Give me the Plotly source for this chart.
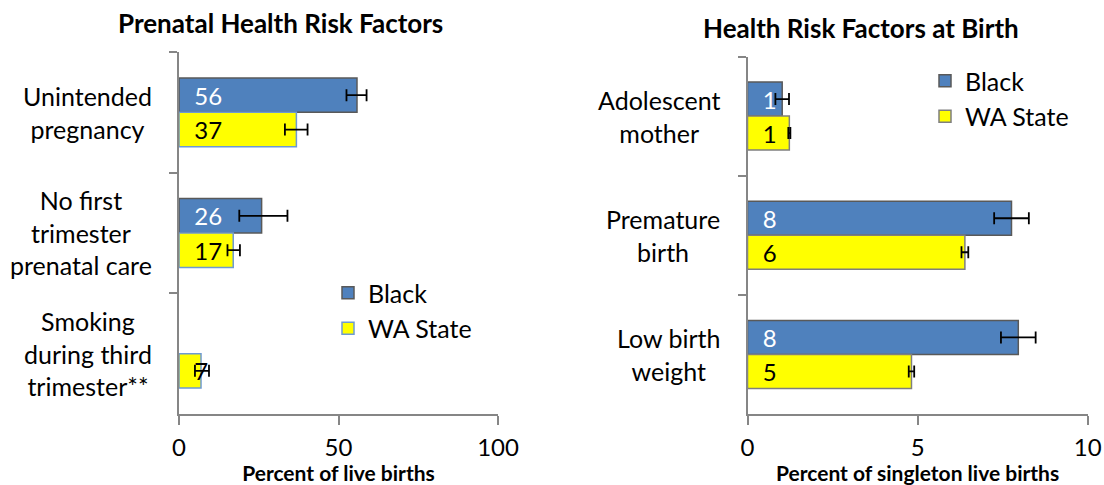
import plotly.graph_objects as go

FONT = "Lato"

# ---- data ----
prenatal_cats = ["Unintended<br>pregnancy", "No first<br>trimester<br>prenatal care",
                 "Smoking<br>during third<br>trimester**"]
prenatal_black = [55.8, 25.9, None]
prenatal_black_err_plus = [3.0, 8.1, None]
prenatal_black_err_minus = [3.3, 7.0, None]
prenatal_wa = [36.8, 17.0, 6.9]
prenatal_wa_err_plus = [3.5, 2.1, 2.5]
prenatal_wa_err_minus = [3.6, 1.8, 1.9]

birth_cats = ["Adolescent<br>mother", "Premature<br>birth", "Low birth<br>weight"]
birth_black = [1.02, 7.76, 7.96]
birth_black_err = [0.2, 0.51, 0.51]
birth_wa = [1.23, 6.39, 4.82]
birth_wa_err = [0.03, 0.1, 0.08]

x1_ticks = [0, 50, 100]
x2_ticks = [0, 5, 10]

BLUE = "#4F81BD"
YELLOW = "#FFFF00"
AXIS = "#868686"
PAD = "\u00a0\u00a0"


def labels(vals):
    return [None if v is None else PAD + str(int(round(v))) for v in vals]


fig = go.Figure()

common = dict(orientation="h", textposition="inside", insidetextanchor="start",
              constraintext="none", textangle=0, cliponaxis=False)

fig.add_trace(go.Bar(
    y=prenatal_cats, x=prenatal_black, name="Black", xaxis="x", yaxis="y",
    marker=dict(color=BLUE, line=dict(color="#595959", width=1.5)),
    text=labels(prenatal_black), textfont=dict(color="white", size=24, family=FONT),
    error_x=dict(type="data", array=prenatal_black_err_plus, arrayminus=prenatal_black_err_minus,
                 color="black", thickness=1.8, width=6),
    legend="legend", **common))
fig.add_trace(go.Bar(
    y=prenatal_cats, x=prenatal_wa, name="WA State", xaxis="x", yaxis="y",
    marker=dict(color=YELLOW, line=dict(color="#6D9AD3", width=1.5)),
    text=labels(prenatal_wa), textfont=dict(color="black", size=24, family=FONT),
    error_x=dict(type="data", array=prenatal_wa_err_plus, arrayminus=prenatal_wa_err_minus,
                 color="black", thickness=1.8, width=6),
    legend="legend", **common))

fig.add_trace(go.Bar(
    y=birth_cats, x=birth_black, name="Black", xaxis="x2", yaxis="y2",
    marker=dict(color=BLUE, line=dict(color="#595959", width=1.5)),
    text=labels(birth_black), textfont=dict(color="white", size=24, family=FONT),
    error_x=dict(type="data", array=birth_black_err, color="black", thickness=1.8, width=6),
    legend="legend2", **common))
fig.add_trace(go.Bar(
    y=birth_cats, x=birth_wa, name="WA State", xaxis="x2", yaxis="y2",
    marker=dict(color=YELLOW, line=dict(color="#7F7F7F", width=1.5)),
    text=labels(birth_wa), textfont=dict(color="black", size=24, family=FONT),
    error_x=dict(type="data", array=birth_wa_err, color="black", thickness=1.8, width=6),
    legend="legend2", **common))

W, H = 1104, 485
xaxis_common = dict(showline=True, linecolor=AXIS, linewidth=1.5, ticks="outside",
                    ticklen=9, tickcolor=AXIS, tickwidth=1.5, showgrid=False, zeroline=False,
                    tickfont=dict(size=24, family=FONT, color="black"), ticklabelstandoff=2,
                    automargin=False)
yaxis_common = dict(showline=True, linecolor=AXIS, linewidth=1.5, ticks="outside",
                    ticklen=8, tickcolor=AXIS, tickwidth=1.5, showgrid=False,
                    tickson="boundaries", autorange="reversed", showticklabels=False,
                    type="category", automargin=False)

fig.update_layout(
    width=W, height=H, autosize=False,
    margin=dict(l=0, r=0, t=0, b=0, pad=0, autoexpand=False),
    paper_bgcolor="white", plot_bgcolor="white",
    barmode="group", bargap=0.43, bargroupgap=0,
    font=dict(family=FONT, color="black"),
    xaxis=dict(domain=[179 / W, 498 / W], range=[0, 100], tickvals=x1_ticks,
               anchor="y",
               title=dict(text="<b>Percent of live births</b>", font=dict(size=21, family=FONT),
                          standoff=0),
               **xaxis_common),
    yaxis=dict(domain=[1 - 414 / H, 1 - 52 / H], anchor="x", **yaxis_common),
    xaxis2=dict(domain=[747.5 / W, 1087.7 / W], range=[0, 10], tickvals=x2_ticks,
                anchor="y2",
                title=dict(text="<b>Percent of singleton live births</b>",
                           font=dict(size=21, family=FONT), standoff=0),
                **xaxis_common),
    yaxis2=dict(domain=[1 - 414 / H, 1 - 56.5 / H], anchor="x2", **yaxis_common),
    legend=dict(x=328 / W, y=1 - 270 / H, xanchor="left", yanchor="top",
                font=dict(size=25, family=FONT), bgcolor="rgba(0,0,0,0)",
                tracegroupgap=0, itemwidth=30),
    legend2=dict(x=925 / W, y=1 - 58 / H, xanchor="left", yanchor="top",
                 font=dict(size=25, family=FONT), bgcolor="rgba(0,0,0,0)",
                 tracegroupgap=0, itemwidth=30),
    showlegend=True,
)

# category labels (centered multi-line), positioned through the category axes
for c in prenatal_cats:
    fig.add_annotation(x=0, xref="x domain", y=c, yref="y", text=c, showarrow=False,
                       xanchor="right", align="center", xshift=-25,
                       font=dict(size=25, family=FONT, color="black"))
for c in birth_cats:
    fig.add_annotation(x=0, xref="x2 domain", y=c, yref="y2", text=c, showarrow=False,
                       xanchor="right", align="center", xshift=-26,
                       font=dict(size=25, family=FONT, color="black"))

fig.add_annotation(x=280 / W, y=1 - 23 / H, xref="paper", yref="paper",
                   text="<b>Prenatal Health Risk Factors</b>", showarrow=False,
                   xanchor="center", yanchor="middle", font=dict(size=26, family=FONT))
fig.add_annotation(x=861 / W, y=1 - 28 / H, xref="paper", yref="paper",
                   text="<b>Health Risk Factors at Birth</b>", showarrow=False,
                   xanchor="center", yanchor="middle", font=dict(size=26, family=FONT))

fig.write_html("out.html", config={"displayModeBar": False},
               post_script="document.body.style.margin='0px';")
